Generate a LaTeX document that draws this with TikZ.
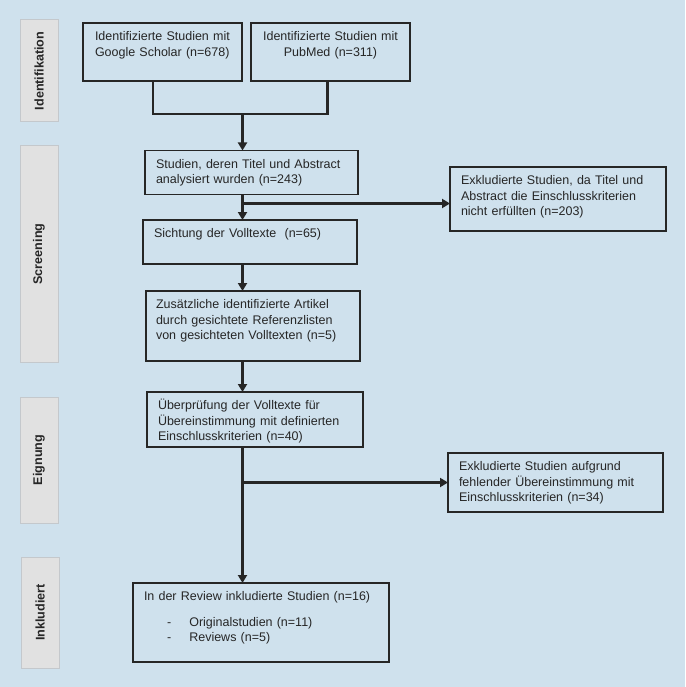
\documentclass[tikz,border=0pt]{standalone}
\usepackage{fontspec}
\setmainfont{Liberation Sans}
\usetikzlibrary{arrows.meta}
\definecolor{bgblue}{HTML}{CFE1ED}
\definecolor{phasegray}{HTML}{E1E1E1}
\definecolor{phaseline}{HTML}{C4C8CC}
\definecolor{ink}{HTML}{262626}
\begin{document}
\begin{tikzpicture}[x=1pt,y=-1pt,
  phase/.style={draw=phaseline,fill=phasegray,line width=1pt,rotate=90,minimum height=38pt,inner sep=0pt,outer sep=0pt,text=ink,font=\bfseries\fontsize{12.6}{14}\selectfont},
  box/.style={draw=ink,line width=1.3pt,anchor=north west,align=left,inner xsep=11pt,inner ysep=0pt,outer sep=0pt,text height=17.5pt,text=ink,font=\fontsize{12.5}{15.7}\selectfont},
  link/.style={draw=ink,line width=2.2pt},
  arrow/.style={link,-{Triangle[length=8pt,width=9pt]}}]
\useasboundingbox[fill=bgblue] (0,0) rectangle (685,687);
% phases
\node[phase,minimum width=102pt] (idf) at (39,71) {Identifikation};
\node[phase,minimum width=216pt] (scr) at (39,254) {Screening};
\node[phase,minimum width=126pt] (eig) at (39,460) {Eignung};
\node[phase,minimum width=111pt] (ink) at (40,612.5) {Inkludiert};
% sources
\node[box,inner xsep=12pt,text width=135pt,text depth=40.5pt] (gs) at (83,23) {Identifizierte Studien mit\\Google Scholar (n=678)};
\node[box,align=center,inner xsep=7pt,text width=145pt,text depth=40.5pt] (pm) at (251,23) {Identifizierte Studien mit\\PubMed (n=311)};
% screening
\node[box,text width=191pt,text depth=26.5pt] (st) at (145,150.5) {Studien, deren Titel und Abstract\\analysiert wurden (n=243)};
\node[box,text width=194pt,text depth=46.5pt] (ex1) at (450,167) {Exkludierte Studien, da Titel und\\Abstract die Einschlusskriterien\\nicht erfüllten (n=203)};
\node[box,text width=192pt,text depth=26.5pt] (sv) at (143,220) {Sichtung der Volltexte\ \ (n=65)};
\node[box,inner xsep=10pt,text width=194pt,text depth=52.5pt] (za) at (146,291) {Zusätzliche identifizierte Artikel\\durch gesichtete Referenzlisten\\von gesichteten Volltexten (n=5)};
% eligibility
\node[box,text width=194pt,text depth=37.5pt] (ue) at (147,392) {Überprüfung der Volltexte für\\Übereinstimmung mit definierten\\Einschlusskriterien (n=40)};
\node[box,text width=193pt,text depth=41.5pt] (ex2) at (448,453) {Exkludierte Studien aufgrund\\fehlender Übereinstimmung mit\\Einschlusskriterien (n=34)};
% included
\node[box,text width=234pt,text depth=61.5pt] (inc) at (133,583) {In der Review inkludierte Studien (n=16)\\[10pt]
  \hspace*{23pt}\makebox[22.3pt][l]{-}Originalstudien (n=11)\\
  \hspace*{23pt}\makebox[22.3pt][l]{-}Reviews (n=5)};
% connectors
\coordinate (spine) at (242.5,114);
\coordinate (b1) at (242.5,203.5);
\draw[link] ([xshift=-9.5pt]gs.south) -- ++(0,33) -| ([xshift=-3pt]pm.south);
\draw[arrow] (spine) -- (spine |- st.north);
\draw[arrow] (st.south -| spine) -- (sv.north -| spine);
\draw[arrow] (b1) -- (b1 -| ex1.west);
\draw[arrow] (sv.south -| spine) -- (za.north -| spine);
\draw[arrow] (za.south -| spine) -- (ue.north -| spine);
\draw[arrow] (ue.south -| spine) -- (inc.north -| spine);
\draw[arrow] (ex2.west -| spine) -- (ex2.west);
\end{tikzpicture}
\end{document}
